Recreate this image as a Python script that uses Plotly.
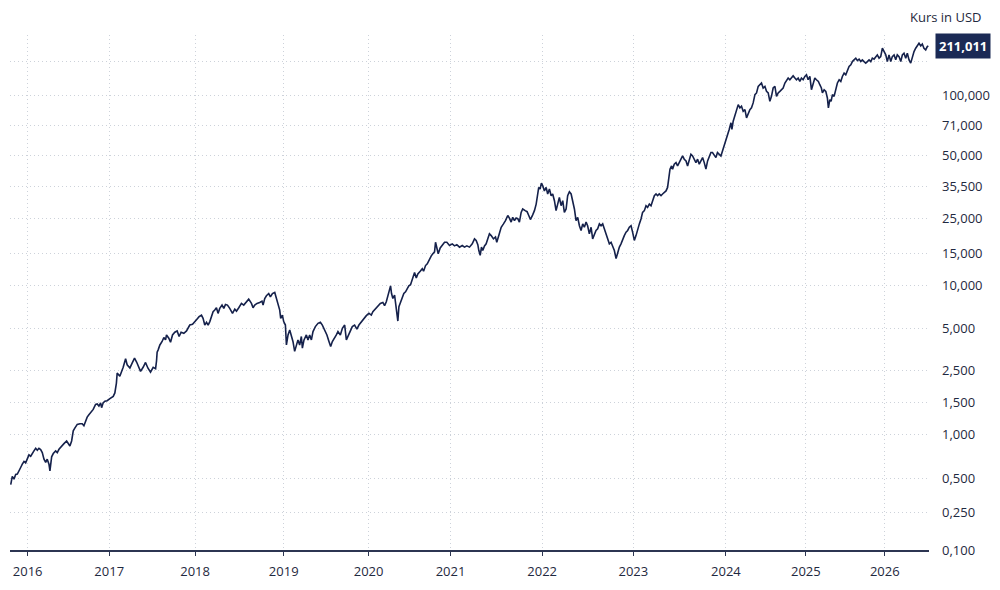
import numpy as np
import plotly.graph_objects as go

# ---------------- data ----------------
t = [2015.792, 2015.811, 2015.832, 2015.853, 2015.873, 2015.893, 2015.914, 2015.934, 2015.955, 2015.975,
     2015.995, 2016.016, 2016.037, 2016.056, 2016.077, 2016.098, 2016.118, 2016.138, 2016.159, 2016.179,
     2016.200, 2016.221, 2016.240, 2016.261, 2016.273, 2016.294, 2016.314, 2016.343, 2016.363, 2016.384,
     2016.417, 2016.445, 2016.478, 2016.498, 2016.518, 2016.539, 2016.559, 2016.580, 2016.608, 2016.641,
     2016.669, 2016.690, 2016.711, 2016.730, 2016.751, 2016.772, 2016.804, 2016.833, 2016.853, 2016.874,
     2016.895, 2016.907, 2016.926, 2016.947, 2016.975, 2017.008, 2017.047, 2017.066, 2017.084, 2017.093,
     2017.124, 2017.163, 2017.191, 2017.209, 2017.241, 2017.267, 2017.295, 2017.319, 2017.349, 2017.365,
     2017.395, 2017.423, 2017.450, 2017.481, 2017.512, 2017.540, 2017.551, 2017.558, 2017.570, 2017.590,
     2017.616, 2017.636, 2017.656, 2017.667, 2017.694, 2017.714, 2017.737, 2017.764, 2017.791, 2017.814,
     2017.837, 2017.869, 2017.900, 2017.919, 2017.938, 2017.970, 2017.997, 2018.023, 2018.045, 2018.072,
     2018.090, 2018.109, 2018.129, 2018.147, 2018.166, 2018.185, 2018.203, 2018.222, 2018.241, 2018.259,
     2018.278, 2018.304, 2018.324, 2018.343, 2018.365, 2018.391, 2018.422, 2018.448, 2018.467, 2018.493,
     2018.523, 2018.549, 2018.579, 2018.605, 2018.636, 2018.654, 2018.673, 2018.699, 2018.729, 2018.755,
     2018.767, 2018.786, 2018.805, 2018.831, 2018.850, 2018.873, 2018.899, 2018.918, 2018.936, 2018.955,
     2018.966, 2018.985, 2019.000, 2019.020, 2019.032, 2019.051, 2019.071, 2019.091, 2019.109, 2019.129,
     2019.149, 2019.168, 2019.188, 2019.208, 2019.220, 2019.239, 2019.267, 2019.286, 2019.306, 2019.326,
     2019.345, 2019.373, 2019.404, 2019.432, 2019.455, 2019.482, 2019.509, 2019.533, 2019.553, 2019.573,
     2019.600, 2019.620, 2019.639, 2019.667, 2019.691, 2019.718, 2019.738, 2019.756, 2019.785, 2019.808,
     2019.835, 2019.862, 2019.886, 2019.914, 2019.941, 2019.973, 2020.004, 2020.033, 2020.052, 2020.085,
     2020.113, 2020.143, 2020.174, 2020.195, 2020.216, 2020.235, 2020.256, 2020.268, 2020.280, 2020.296,
     2020.317, 2020.338, 2020.357, 2020.370, 2020.390, 2020.411, 2020.430, 2020.451, 2020.472, 2020.491,
     2020.512, 2020.540, 2020.561, 2020.582, 2020.601, 2020.630, 2020.655, 2020.671, 2020.695, 2020.716,
     2020.735, 2020.765, 2020.784, 2020.805, 2020.817, 2020.833, 2020.850, 2020.874, 2020.899, 2020.927,
     2020.955, 2020.988, 2021.019, 2021.044, 2021.069, 2021.098, 2021.128, 2021.153, 2021.178, 2021.207,
     2021.237, 2021.262, 2021.280, 2021.298, 2021.309, 2021.324, 2021.338, 2021.352, 2021.371, 2021.389,
     2021.407, 2021.425, 2021.444, 2021.469, 2021.491, 2021.505, 2021.527, 2021.553, 2021.578, 2021.600,
     2021.625, 2021.643, 2021.662, 2021.679, 2021.698, 2021.716, 2021.734, 2021.752, 2021.771, 2021.788,
     2021.815, 2021.836, 2021.854, 2021.872, 2021.897, 2021.916, 2021.935, 2021.952, 2021.963, 2021.978,
     2021.992, 2022.007, 2022.025, 2022.044, 2022.061, 2022.080, 2022.099, 2022.116, 2022.135, 2022.153,
     2022.171, 2022.189, 2022.208, 2022.226, 2022.244, 2022.263, 2022.280, 2022.299, 2022.318, 2022.335,
     2022.354, 2022.372, 2022.390, 2022.409, 2022.427, 2022.445, 2022.463, 2022.482, 2022.499, 2022.518,
     2022.537, 2022.554, 2022.573, 2022.591, 2022.609, 2022.628, 2022.646, 2022.664, 2022.682, 2022.701,
     2022.719, 2022.737, 2022.756, 2022.773, 2022.792, 2022.811, 2022.828, 2022.847, 2022.865, 2022.883,
     2022.901, 2022.920, 2022.938, 2022.956, 2022.975, 2022.992, 2023.011, 2023.029, 2023.046, 2023.065,
     2023.083, 2023.100, 2023.119, 2023.137, 2023.154, 2023.173, 2023.191, 2023.208, 2023.227, 2023.245,
     2023.262, 2023.280, 2023.299, 2023.316, 2023.334, 2023.353, 2023.370, 2023.381, 2023.396, 2023.413,
     2023.424, 2023.442, 2023.461, 2023.478, 2023.496, 2023.515, 2023.532, 2023.550, 2023.569, 2023.586,
     2023.604, 2023.622, 2023.640, 2023.658, 2023.676, 2023.694, 2023.712, 2023.730, 2023.748, 2023.766,
     2023.784, 2023.802, 2023.820, 2023.838, 2023.855, 2023.874, 2023.892, 2023.909, 2023.928, 2023.946,
     2023.963, 2023.982, 2024.000, 2024.020, 2024.041, 2024.063, 2024.075, 2024.091, 2024.113, 2024.133,
     2024.154, 2024.175, 2024.195, 2024.216, 2024.238, 2024.258, 2024.279, 2024.300, 2024.320, 2024.341,
     2024.363, 2024.383, 2024.404, 2024.425, 2024.445, 2024.466, 2024.488, 2024.508, 2024.529, 2024.550,
     2024.570, 2024.591, 2024.613, 2024.633, 2024.654, 2024.675, 2024.695, 2024.716, 2024.738, 2024.758,
     2024.779, 2024.800, 2024.820, 2024.841, 2024.863, 2024.883, 2024.904, 2024.925, 2024.945, 2024.966,
     2024.988, 2025.008, 2025.029, 2025.051, 2025.071, 2025.092, 2025.114, 2025.134, 2025.159, 2025.177,
     2025.197, 2025.210, 2025.232, 2025.253, 2025.273, 2025.286, 2025.304, 2025.320, 2025.337, 2025.358,
     2025.380, 2025.400, 2025.422, 2025.443, 2025.463, 2025.485, 2025.506, 2025.527, 2025.548, 2025.570,
     2025.590, 2025.611, 2025.633, 2025.653, 2025.675, 2025.696, 2025.716, 2025.738, 2025.759, 2025.780,
     2025.801, 2025.823, 2025.843, 2025.865, 2025.886, 2025.906, 2025.928, 2025.949, 2025.970, 2025.991,
     2026.013, 2026.033, 2026.054, 2026.076, 2026.096, 2026.118, 2026.139, 2026.159, 2026.181, 2026.203,
     2026.223, 2026.244, 2026.266, 2026.286, 2026.308, 2026.329, 2026.349, 2026.371, 2026.392, 2026.413,
     2026.434, 2026.456, 2026.476, 2026.497, 2026.519, 2026.539, 2026.552]

price = [444, 520, 498, 536, 539, 562, 598, 630, 657, 643,
         681, 729, 713, 752, 776, 808, 783, 808, 791, 755,
         681, 647, 681, 630, 568, 707, 744, 776, 755, 795,
         838, 869, 906, 869, 838, 906, 1050, 1090, 1140, 1150,
         1150, 1120, 1190, 1250, 1290, 1320, 1380, 1470, 1480, 1440,
         1500, 1410, 1500, 1540, 1550, 1600, 1660, 1750, 2040, 2390,
         2270, 2620, 3020, 2730, 2590, 2810, 3050, 2860, 2620, 2450,
         2620, 2840, 2590, 2420, 2620, 2560, 2920, 3380, 3510, 3810,
         4040, 4320, 4150, 4510, 4270, 3990, 4510, 4720, 4820, 4390,
         4720, 4640, 4820, 5100, 5310, 5370, 5660, 5850, 6070, 6230,
         5910, 5310, 5550, 5310, 5610, 6230, 6580, 6750, 7010, 6400,
         6930, 7310, 6930, 7390, 7310, 6930, 6400, 6850, 6640, 7010,
         7510, 7310, 7710, 8040, 7510, 7010, 7310, 7510, 7630, 7790,
         7310, 8130, 8490, 8800, 8350, 8800, 8950, 8130, 7310, 6750,
         5910, 6230, 5610, 5310, 3810, 4510, 4900, 4390, 4040, 3420,
         3810, 4150, 3810, 4390, 3610, 4150, 4510, 4150, 4510, 4150,
         4770, 5180, 5460, 5550, 5310, 4900, 4510, 4040, 3710, 4040,
         4270, 4510, 4770, 4510, 5040, 5310, 4150, 4390, 4770, 5180,
         5310, 4980, 5310, 5610, 5910, 6170, 6400, 6230, 6580, 6930,
         7240, 7510, 7630, 7240, 7710, 8350, 9130, 9950, 8800, 8130,
         8570, 6930, 5660, 7120, 7710, 8350, 8800, 9040, 9530, 9950,
         10100, 11200, 11800, 11000, 11600, 12000, 12400, 12000, 12900, 13200,
         13800, 14600, 15000, 15400, 17700, 16300, 15000, 16300, 16900, 17700,
         17700, 16900, 17300, 16800, 17100, 16500, 16900, 16500, 16800, 16500,
         17300, 18600, 18200, 17100, 15700, 14700, 16500, 15700, 16800, 17300,
         18600, 20000, 19500, 18600, 19100, 17700, 19500, 22000, 23100, 24200,
         25800, 25100, 23700, 25300, 24200, 25100, 24900, 23700, 26700, 27700,
         27200, 26900, 25800, 24600, 26000, 27200, 29200, 33200, 35000, 34400,
         36700, 35600, 33700, 35000, 32600, 34400, 32000, 32600, 30300, 27200,
         29200, 31400, 28700, 30300, 26700, 27700, 32000, 33400, 32600, 30300,
         27700, 24200, 25300, 22500, 21000, 23100, 22000, 23700, 22500, 20000,
         22000, 18600, 20000, 21000, 21500, 23100, 22500, 23100, 21500, 20000,
         18600, 17300, 17700, 16500, 15700, 14100, 15400, 16500, 17300, 18600,
         19500, 20500, 21000, 22000, 22500, 20500, 18200, 19500, 21500, 23100,
         24800, 26700, 27200, 28700, 28200, 29200, 28700, 30300, 32000, 32600,
         32000, 32600, 32000, 32600, 33200, 33700, 35000, 38400, 43000, 44600,
         43000, 45500, 46300, 44600, 46300, 48100, 49900, 48100, 47200, 44600,
         48100, 50900, 49900, 48100, 46300, 48100, 45500, 47200, 49000, 46300,
         43000, 47200, 49900, 51900, 51900, 49900, 49000, 51900, 50900, 49900,
         52800, 56000, 60400, 64000, 67800, 73200, 67800, 74600, 80500, 85200,
         90200, 86900, 88500, 83600, 85200, 77500, 82100, 85200, 86900, 92000,
         101200, 103300, 111700, 114000, 116400, 109600, 111700, 105300, 103300, 93700,
         99200, 109600, 111700, 99200, 103300, 105300, 107400, 109600, 116400, 121000,
         123500, 121000, 123500, 126900, 123500, 121000, 123500, 118600, 123500, 121000,
         125900, 128500, 121000, 125900, 107400, 116400, 123500, 121000, 118600, 114000,
         109600, 103300, 107400, 105300, 97400, 86900, 95500, 93700, 101200, 99200,
         107400, 116400, 121000, 118600, 125900, 131100, 128500, 136400, 141800, 144700,
         150500, 153600, 156800, 152300, 155000, 150500, 153600, 150500, 147700, 150500,
         153600, 150500, 156800, 155000, 159800, 163100, 156800, 159800, 176600, 169600,
         163100, 150500, 163100, 150500, 159800, 163100, 153600, 163100, 159800, 150500,
         163100, 166400, 156800, 166400, 153600, 147700, 159800, 169600, 176600, 183700,
         187500, 181500, 185800, 176600, 173100, 180000, 181500]

year_ticks = [2016, 2017, 2018, 2019, 2020, 2021, 2022, 2023, 2024, 2025, 2026]
y_tick_values = [100, 250, 500, 1000, 1500, 2500, 5000, 10000, 15000, 25000,
                 35500, 50000, 71000, 100000, 150000]
y_tick_labels = ["0,100", "0,250", "0,500", "1,000", "1,500", "2,500", "5,000", "10,000",
                 "15,000", "25,000", "35,500", "50,000", "71,000", "100,000", ""]
last_price_label = "211,011"
axis_title = "Kurs in USD"

# ---------------- custom axis scales of the reference (layout, px) ----------------
X_KNOT_YEARS = [2015, 2016, 2017, 2018, 2019, 2020, 2021, 2022, 2023, 2024, 2025, 2026, 2027]
X_KNOT_PX = [-53.9, 27.7, 109.3, 195.3, 284, 369, 451, 542.7, 634, 726.7, 806.7, 885.7, 964.7]
Y_BASE_PX = 553
Y_KNOT_PX = [553, 515.5, 481.5, 437, 405, 372, 330.5, 287, 255, 219.5, 187, 156.5, 126, 96, 62]


def x_scale(vals):
    return np.interp(np.asarray(vals, float), X_KNOT_YEARS, X_KNOT_PX)


def y_scale(vals):
    L = np.log10(np.asarray(vals, float))
    K = np.log10(np.asarray(y_tick_values, float))
    H = Y_BASE_PX - np.asarray(Y_KNOT_PX, float)
    out = np.interp(L, K, H)
    slope = (H[-1] - H[-2]) / (K[-1] - K[-2])
    above = L > K[-1]
    out[above] = H[-1] + (L[above] - K[-1]) * slope
    return out


NAVY = "#15214b"
TEXT = "#1f2940"
GRID = "#cdd2da"
FONT = "Open Sans"

xs = x_scale(t)
ys = y_scale(price)

fig = go.Figure()
fig.add_trace(go.Scatter(x=xs, y=ys, mode="lines",
                         line=dict(color=NAVY, width=1.6), hoverinfo="skip",
                         showlegend=False, cliponaxis=False))

PLOT_L, PLOT_R, PLOT_T = 10, 930, 35
fig.update_layout(
    width=1000, height=590,
    margin=dict(l=PLOT_L, r=1000 - PLOT_R, t=PLOT_T, b=590 - Y_BASE_PX, pad=0),
    paper_bgcolor="white", plot_bgcolor="white",
    font=dict(family=FONT, size=13, color=TEXT),
    showlegend=False,
)
fig.update_xaxes(
    range=[PLOT_L, PLOT_R], fixedrange=True,
    tickmode="array", tickvals=x_scale(year_ticks), ticktext=[str(y) for y in year_ticks],
    ticks="outside", ticklen=4, tickwidth=1.2, tickcolor="#2c3552",
    showline=True, linecolor="#2c3552", linewidth=1.5,
    showgrid=True, gridcolor=GRID, griddash="1px,3px", gridwidth=1,
    zeroline=False, ticklabelstandoff=5,
    tickfont=dict(family=FONT, size=13, color=TEXT),
)
fig.update_yaxes(
    range=[0, Y_BASE_PX - PLOT_T], fixedrange=True, side="right",
    tickmode="array", tickvals=y_scale(y_tick_values), ticktext=y_tick_labels,
    ticks="", showline=False,
    showgrid=True, gridcolor=GRID, griddash="1px,3px", gridwidth=1,
    zeroline=False, ticklabelstandoff=12,
    tickfont=dict(family=FONT, size=13, color=TEXT),
)

plot_w = PLOT_R - PLOT_L
plot_h = Y_BASE_PX - PLOT_T
fig.add_annotation(
    text=axis_title, xref="paper", yref="paper",
    x=(985 - PLOT_L) / plot_w, y=(Y_BASE_PX - 17) / plot_h,
    xanchor="right", yanchor="middle", showarrow=False,
    font=dict(family=FONT, size=13, color=TEXT),
)
fig.add_annotation(
    text="<b>" + last_price_label + "</b>", xref="paper", yref="y",
    x=(936 - PLOT_L) / plot_w, y=float(ys[-1]),
    xanchor="left", yanchor="middle", showarrow=False,
    bgcolor="#1b2a55", borderpad=3,
    font=dict(family=FONT, size=13, color="white"),
)

fig.write_html("out.html")
